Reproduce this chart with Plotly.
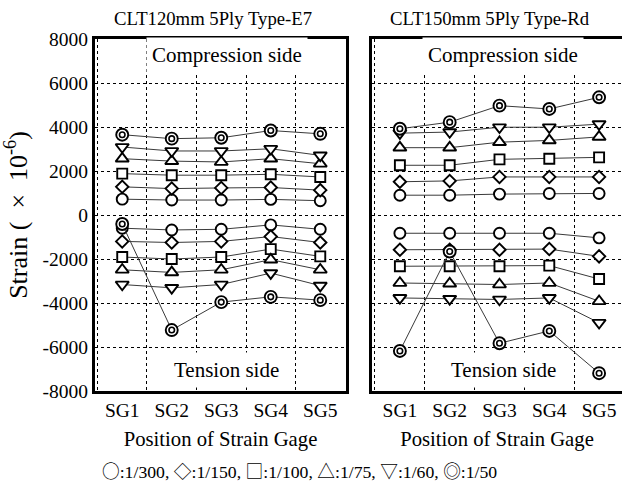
import plotly.graph_objects as go
from plotly.subplots import make_subplots

# Strain gauge positions along the panel
gauges = ["SG1", "SG2", "SG3", "SG4", "SG5"]

# Strain axis ticks (hyphen minus as in the printed figure)
strain_ticks = [8000, 6000, 4000, 2000, 0, -2000, -4000, -6000, -8000]
strain_tick_text = ["8000", "6000", "4000", "2000", "0", "-2000", "-4000", "-6000", "-8000"]

# Rotation angle steps (legend labels) and their glyphs
load_labels = ["1/300", "1/150", "1/100", "1/75", "1/60", "1/50"]
load_glyphs = ["○", "◇", "□", "△", "▽", "◎"]

# CLT120mm 5Ply Type-E7 : compression side / tension side (x10^-6)
e7_comp = {
    "1/300": [720, 680, 680, 710, 650],
    "1/150": [1280, 1200, 1230, 1250, 1130],
    "1/100": [1880, 1810, 1810, 1850, 1730],
    "1/75": [2560, 2450, 2410, 2560, 2330],
    "1/60": [3090, 2910, 2910, 3010, 2710],
    "1/50": [3650, 3470, 3510, 3840, 3690],
}
e7_tens = {
    "1/300": [-600, -680, -650, -450, -650],
    "1/150": [-1200, -1250, -1200, -980, -1250],
    "1/100": [-1910, -2000, -1910, -1550, -1880],
    "1/75": [-2490, -2610, -2490, -2030, -2490],
    "1/60": [-3160, -3310, -3160, -2640, -3210],
    "1/50": [-410, -5230, -3960, -3720, -3870],
}

# CLT150mm 5Ply Type-Rd : compression side / tension side (x10^-6)
rd_comp = {
    "1/300": [900, 900, 950, 980, 980],
    "1/150": [1510, 1550, 1730, 1730, 1730],
    "1/100": [2260, 2260, 2530, 2560, 2620],
    "1/75": [3060, 3060, 3310, 3390, 3550],
    "1/60": [3720, 3770, 3990, 3990, 4130],
    "1/50": [3920, 4220, 4970, 4820, 5350],
}
rd_tens = {
    "1/300": [-830, -830, -830, -830, -1040],
    "1/150": [-1580, -1580, -1580, -1550, -1880],
    "1/100": [-2330, -2330, -2330, -2300, -2910],
    "1/75": [-3090, -3120, -3160, -3090, -3920],
    "1/60": [-3770, -3810, -3840, -3770, -4900],
    "1/50": [-6180, -1660, -5830, -5270, -7190],
}

titles = ["CLT120mm 5Ply Type-E7", "CLT150mm 5Ply Type-Rd"]

FONT = "Liberation Serif, Times New Roman, Times, serif"
GLYPH_FONT = "Noto Sans CJK JP"
W, H = 622, 501
L, R, T, B = 95, 0, 39, 110
PH = H - T - B  # plot area height in px

symbols = {
    "1/300": ("circle", 11),
    "1/150": ("diamond", 9.5),
    "1/100": ("square", 10),
    "1/75": ("triangle-up", 11.5),
    "1/60": ("triangle-down", 11.5),
    "1/50": ("circle", 12),
}

fig = make_subplots(rows=1, cols=2, shared_yaxes=False, horizontal_spacing=0.05)

panels = [(e7_comp, e7_tens), (rd_comp, rd_tens)]
for col, (comp, tens) in enumerate(panels, start=1):
    for side in (comp, tens):
        for lab in load_labels:
            sym, size = symbols[lab]
            fig.add_trace(
                go.Scatter(
                    x=gauges, y=side[lab], mode="lines+markers",
                    line=dict(color="#3a3a3a", width=1),
                    marker=dict(symbol=sym, size=size, color="white",
                                line=dict(color="black", width=1.9)),
                    showlegend=False, hoverinfo="skip",
                ),
                row=1, col=col,
            )
        # inner ring of the double circle
        fig.add_trace(
            go.Scatter(
                x=gauges, y=side["1/50"], mode="markers",
                marker=dict(symbol="circle-open", size=5.5, color="black",
                            line=dict(color="black", width=1.6)),
                showlegend=False, hoverinfo="skip",
            ),
            row=1, col=col,
        )

# panel geometry in pixels
left_px = (95, 346)
right_px = (372, 622)
pw = W - L - R
dom1 = [(left_px[0] - L) / pw, (left_px[1] - L) / pw]
dom2 = [(right_px[0] - L) / pw, 1.0]

axis_font = dict(family=FONT, size=19.5, color="black")
xcommon = dict(
    type="category", tickson="boundaries", showgrid=True, griddash="dot",
    gridcolor="black", gridwidth=1, ticks="", showline=True, linecolor="black",
    linewidth=3, mirror=True, tickfont=axis_font, zeroline=False,
    title=dict(text="Position of Strain Gage", font=dict(family=FONT, size=20.7, color="black"),
               standoff=12),
)
fig.update_xaxes(**xcommon)
fig.update_xaxes(domain=dom1, range=[-0.55, 4.52], row=1, col=1)
fig.update_xaxes(domain=dom2, range=[-0.56, 4.46], row=1, col=2)

ycommon = dict(
    range=[-8000, 8000], tickmode="array", tickvals=strain_ticks, ticktext=strain_tick_text,
    showgrid=True, griddash="dot",
    gridcolor="black", gridwidth=1, zeroline=False, ticks="", showline=True,
    linecolor="black", linewidth=3, tickfont=axis_font,
)
fig.update_yaxes(**ycommon)
fig.update_yaxes(mirror=True, row=1, col=1,
                 title=dict(text="Strain (\u00a0\u00a0\u00d7\u00a0\u00a010<sup>-6</sup>)",
                            font=dict(family=FONT, size=26, color="black"), standoff=10))
fig.update_yaxes(mirror=False, showticklabels=False, row=1, col=2)

annotations = []
for i, xr in enumerate(["x domain", "x2 domain"]):
    yr = "y domain" if i == 0 else "y2 domain"
    annotations.append(dict(
        text="Compression side", xref=xr, yref=yr, x=0.525, y=(T + PH - 55) / PH,
        xanchor="center", yanchor="middle", showarrow=False, bgcolor="white", borderpad=5,
        font=dict(family=FONT, size=21, color="black"),
    ))
    annotations.append(dict(
        text="Tension side", xref=xr, yref=yr, x=0.525, y=(T + PH - 370) / PH,
        xanchor="center", yanchor="middle", showarrow=False, bgcolor="white", borderpad=5,
        font=dict(family=FONT, size=21, color="black"),
    ))
    annotations.append(dict(
        text=titles[i], xref=xr, yref="paper", x=0.472, y=1 + (T - 18) / PH,
        xanchor="center", yanchor="middle", showarrow=False,
        font=dict(family=FONT, size=18.7, color="black"),
    ))

legend_text = ", ".join(
    f'<span style="font-family:{GLYPH_FONT}">{g}</span>:{lab}'
    for g, lab in zip(load_glyphs, load_labels)
)
annotations.append(dict(
    text=legend_text, xref="paper", yref="paper", x=(299 - L) / pw, y=-(470 - T - PH) / PH,
    xanchor="center", yanchor="middle", showarrow=False,
    font=dict(family=FONT, size=17.7, color="black"),
))

fig.update_layout(
    width=W, height=H, margin=dict(l=L, r=R, t=T, b=B),
    paper_bgcolor="white", plot_bgcolor="white",
    annotations=annotations, showlegend=False,
)

fig.write_html("out.html")
